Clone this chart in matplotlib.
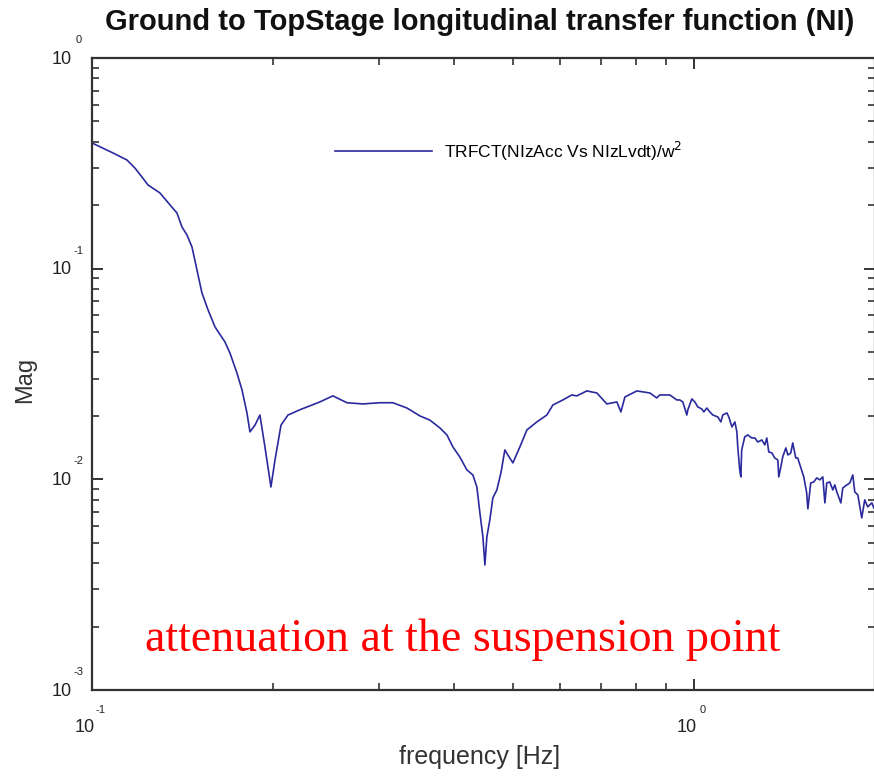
import numpy as np
import matplotlib
matplotlib.use("Agg")
from matplotlib import pyplot as plt
from matplotlib.ticker import LogLocator, NullFormatter

# frequency [Hz] and magnitude
freq = [0.100, 0.1084, 0.1143, 0.1179, 0.1211, 0.1239, 0.1297, 0.1348, 0.1384, 0.1411,
        0.1438, 0.1466, 0.1494, 0.1523, 0.1559, 0.1601, 0.1663, 0.1695, 0.1741, 0.1775,
        0.1809, 0.1830, 0.1866, 0.1901, 0.1938, 0.1983, 0.2014, 0.2061, 0.2117, 0.2216,
        0.2391, 0.2513, 0.2652, 0.2819, 0.3009, 0.3162, 0.3337, 0.3506, 0.3643, 0.3785,
        0.3888, 0.3978, 0.4085, 0.4197, 0.4294, 0.4360, 0.4411, 0.4462, 0.4496, 0.4530,
        0.4582, 0.4635, 0.4707, 0.4780, 0.4853, 0.4909, 0.5004, 0.5140, 0.5280, 0.5485,
        0.5699, 0.5832, 0.6059, 0.6269, 0.6390, 0.6641, 0.6900, 0.7169, 0.7450, 0.7565,
        0.7682, 0.8042, 0.8451, 0.8679, 0.8779, 0.9122, 0.9371,
        0.9478, 0.9587, 0.9736, 0.9772, 0.9924, 1.0039, 1.0154, 1.031, 1.039, 1.051,
        1.063, 1.0755, 1.096, 1.109, 1.117, 1.135, 1.143, 1.157, 1.170, 1.179,
        1.183, 1.192, 1.197, 1.201, 1.215, 1.229, 1.248, 1.263, 1.277, 1.297,
        1.312, 1.322, 1.332, 1.348, 1.363, 1.379, 1.384, 1.395, 1.405, 1.422,
        1.433, 1.449, 1.460, 1.477, 1.488, 1.506, 1.523, 1.540, 1.547, 1.564,
        1.582, 1.601, 1.619, 1.638, 1.651, 1.663, 1.682, 1.702, 1.715, 1.728,
        1.755, 1.768, 1.796, 1.816, 1.837, 1.851, 1.873, 1.901, 1.923, 1.945,
        1.976, 1.991]
mag = [0.395, 0.354, 0.328, 0.300, 0.272, 0.2496, 0.2287, 0.2006, 0.1838, 0.1577,
       0.1445, 0.1267, 0.0986, 0.0767, 0.0637, 0.0529, 0.0449, 0.0398, 0.0320, 0.0266,
       0.0207, 0.0168, 0.0181, 0.0202, 0.01425, 0.0092, 0.01236, 0.0181, 0.0202, 0.0214,
       0.0233, 0.0249, 0.0231, 0.0228, 0.0231, 0.0231, 0.0218, 0.0200, 0.0191, 0.01754,
       0.01625, 0.01425, 0.01277, 0.01108, 0.01049, 0.0092, 0.00693, 0.00533, 0.00392, 0.00533,
       0.00642, 0.00816, 0.00891, 0.01072, 0.01379, 0.01305, 0.01197, 0.01425, 0.01716, 0.01873,
       0.0202, 0.02254, 0.02381, 0.02515, 0.0249, 0.02628, 0.0257, 0.0228, 0.0233, 0.0209,
       0.0246, 0.02628, 0.0257, 0.02434, 0.02515, 0.02515, 0.02381,
       0.02381, 0.0233, 0.0202, 0.02135, 0.02408, 0.0233, 0.02206, 0.02158, 0.0209, 0.0218,
       0.0209, 0.0202, 0.01978, 0.01873, 0.0202, 0.02066, 0.01978, 0.01773, 0.01873, 0.0168,
       0.01425, 0.01108, 0.01027, 0.01379, 0.0159, 0.01625, 0.01572, 0.01572, 0.01504, 0.01538,
       0.01457, 0.01572, 0.01349, 0.01334, 0.01263, 0.01236, 0.01027, 0.01145, 0.01277, 0.0141,
       0.01305, 0.01334, 0.01489, 0.01263, 0.01263, 0.01133, 0.01027, 0.00862, 0.00724, 0.00961,
       0.00972, 0.01016, 0.00994, 0.01027, 0.00773, 0.00961, 0.00972, 0.00891, 0.00941, 0.00872,
       0.00773, 0.0091, 0.00941, 0.00961, 0.01049, 0.00872, 0.00843, 0.00656, 0.00799, 0.0074,
       0.00773, 0.00732]

xdecades = [0.1, 1.0]
xexp = ["-1", "0"]
ydecades = [1.0, 0.1, 0.01, 0.001]
yexp = ["0", "-1", "-2", "-3"]

W, H = 874, 778
fig = plt.figure(figsize=(W / 100, H / 100), dpi=100)
plt.rcParams['font.family'] = ['Liberation Sans', 'DejaVu Sans']
ax = fig.add_axes([92 / W, 1 - 690 / H, 783 / W, 632 / H])

ax.plot(freq, mag, color='#2a2a9e', lw=1.2, label='TRFCT(NIzAcc Vs NIzLvdt)/w$^2$')
ax.set_xscale('log')
ax.set_yscale('log')
ax.set_xlim(0.1, 2.0)
ax.set_ylim(1e-3, 1.0)

for s in ax.spines.values():
    s.set_color('#333333')
    s.set_linewidth(1.6)
ax.xaxis.set_minor_locator(LogLocator(base=10, subs=np.arange(2, 10)))
ax.yaxis.set_minor_locator(LogLocator(base=10, subs=np.arange(2, 10)))
ax.tick_params(which='both', direction='in', top=True, right=True, colors='#333333',
               labelbottom=False, labelleft=False)
ax.tick_params(which='major', length=8, width=1.4)
ax.tick_params(which='minor', length=5, width=1.2)
ax.xaxis.set_minor_formatter(NullFormatter())
ax.yaxis.set_minor_formatter(NullFormatter())

# old style "10 with exponent" tick labels
for v, e in zip(ydecades, yexp):
    ax.annotate("10", xy=(0, v), xycoords=ax.get_yaxis_transform(), xytext=(-20, -1),
                textcoords='offset pixels', ha='right', va='center', fontsize=13, color='#222222')
    ax.annotate(e, xy=(0, v), xycoords=ax.get_yaxis_transform(), xytext=(-13, 18),
                textcoords='offset pixels', ha='center', va='center', fontsize=8, color='#222222')
for v, e in zip(xdecades, xexp):
    ax.annotate("10", xy=(v, 0), xycoords=ax.get_xaxis_transform(), xytext=(-7, -38),
                textcoords='offset pixels', ha='center', va='center', fontsize=13, color='#222222')
    ax.annotate(e, xy=(v, 0), xycoords=ax.get_xaxis_transform(), xytext=(9, -20),
                textcoords='offset pixels', ha='center', va='center', fontsize=8, color='#222222')

fig.text(480 / W, 1 - 22 / H, "Ground to TopStage longitudinal transfer function (NI)",
         ha='center', va='center', fontsize=21, fontweight='bold', color='#111111')
fig.text(480 / W, 1 - 757 / H, "frequency [Hz]", ha='center', va='center',
         fontsize=18, color='#333333')
fig.text(25 / W, 1 - 380 / H, "Mag", ha='center', va='center', rotation=90,
         fontsize=17, color='#333333')

ax.legend(loc='center left', bbox_to_anchor=((335 - 92) / 783, (690 - 151) / 632),
          frameon=False, fontsize=12.5, handlelength=5.6, handletextpad=0.7,
          borderpad=0, borderaxespad=0)

ax.text(0.474, 0.08, "attenuation at the suspension point", transform=ax.transAxes,
        ha='center', va='center', fontsize=33, color='red', family='Liberation Serif')

plt.savefig('out.png', dpi=100)
